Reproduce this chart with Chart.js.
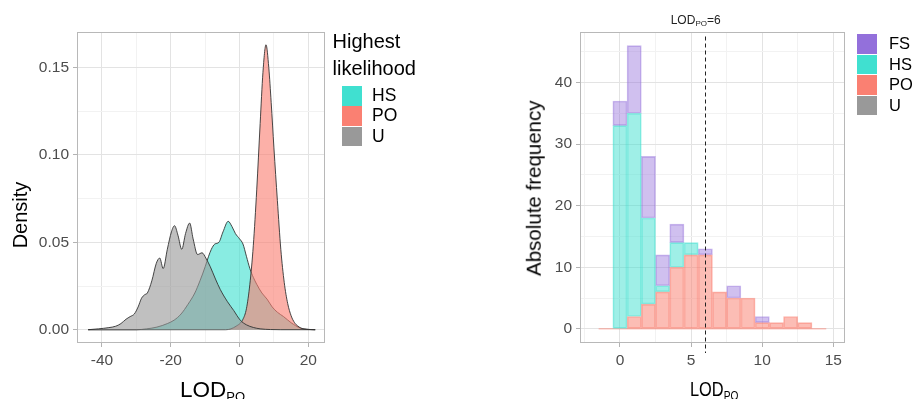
<!DOCTYPE html>
<html><head><meta charset="utf-8">
<script src="https://cdn.jsdelivr.net/npm/chart.js@4.4.1/dist/chart.umd.min.js"></script>
<style>
html,body{margin:0;padding:0;background:#fff;}
body{width:915px;height:399px;position:relative;overflow:hidden;font-family:"Liberation Sans",Arial,sans-serif;color:#000;}
.abs{position:absolute;white-space:nowrap;}
.key{position:absolute;}
</style></head><body>
<div class="abs" style="left:0;top:0;width:335px;height:399px"><canvas id="left"></canvas></div>
<div class="abs" style="left:505px;top:0;width:350px;height:399px"><canvas id="right"></canvas></div>

<!-- left chart texts -->
<div class="abs" style="left:-30.3px;top:205px;width:100px;height:20px;line-height:20px;font-size:20px;text-align:center;transform:rotate(-90deg);">Density</div>
<div class="abs" style="left:180px;top:378.5px;font-size:22.5px;line-height:22.5px;">LOD<span style="font-size:13px;line-height:0;position:relative;top:4px;">PO</span></div>
<div class="abs" style="left:332.5px;top:31.4px;font-size:20px;line-height:20px;">Highest</div>
<div class="abs" style="left:332.5px;top:58px;font-size:20px;line-height:20px;">likelihood</div>
<div id="legL"></div>

<!-- right chart texts -->
<div class="abs" style="left:414px;top:178px;width:240px;height:20.5px;line-height:20.5px;font-size:20.5px;text-align:center;transform:rotate(-90deg);">Absolute frequency</div>
<div class="abs" style="left:690px;top:378.2px;font-size:21px;line-height:21px;transform:scaleX(0.78);transform-origin:left center;">LOD<span style="font-size:13px;line-height:0;position:relative;top:4px;">PO</span></div>
<div class="abs" style="left:670.7px;top:14.1px;font-size:12px;line-height:12px;color:#222;">LOD<span style="font-size:8px;line-height:0;position:relative;top:2px;">PO</span>=6</div>
<div id="legR"></div>

<script>
// ---------- Left panel: density curves (LOD_PO) ----------
const uX  = [-44, -41, -38, -36, -34.5, -33, -31.8, -30.6, -29.5, -28.5, -27.6, -26.8, -25.5, -24.2, -23.2, -22.2, -21, -19.8, -18.9, -17.9, -16.8, -15.7, -14.5, -13.5, -12.2, -10.9, -9.8, -8.5, -7, -5.6, -3.5, -1.7, 0.2, 2, 4, 6, 9, 12, 22];
const uY  = [0, 0.0005, 0.0012, 0.002, 0.0035, 0.006, 0.0075, 0.009, 0.013, 0.018, 0.020, 0.021, 0.028, 0.038, 0.041, 0.035, 0.046, 0.056, 0.0595, 0.054, 0.046, 0.055, 0.061, 0.052, 0.043, 0.044, 0.041, 0.036, 0.029, 0.023, 0.016, 0.011, 0.0055, 0.0028, 0.0013, 0.0005, 0.0001, 0, 0];

const hsX = [-44, -30, -27, -24, -21, -19, -17, -15, -13, -11.5, -10, -9, -8.2, -7.2, -6, -4.8, -3.3, -2.2, -1.2, 0, 1, 2, 3, 4, 5, 6.5, 8, 9.5, 11, 12.8, 15, 17.6, 20, 22];
const hsY = [0, 0, 0.0005, 0.0015, 0.0035, 0.0055, 0.009, 0.0145, 0.021, 0.028, 0.036, 0.042, 0.046, 0.049, 0.050, 0.056, 0.062, 0.059, 0.055, 0.052, 0.049, 0.042, 0.035, 0.030, 0.026, 0.021, 0.0175, 0.013, 0.010, 0.0075, 0.004, 0.001, 0.0002, 0];

const poX = [-44, -4, -1, 1, 2, 3, 4, 5, 6, 6.8, 7.7, 8.5, 9.2, 10, 11, 12, 13, 14, 15, 16, 17, 18.5, 22];
const poY = [0, 0, 0.002, 0.006, 0.012, 0.026, 0.048, 0.080, 0.118, 0.147, 0.163, 0.150, 0.130, 0.104, 0.074, 0.046, 0.027, 0.015, 0.008, 0.004, 0.002, 0.0005, 0];

const xTicksLeft  = [-40, -30, -20, -10, 0, 10, 20];
const xMajorLeft  = [-40, -20, 0, 20];
const yTicksLeft  = [0, 0.025, 0.05, 0.075, 0.10, 0.125, 0.15];
const yMajorLeft  = [0, 0.05, 0.10, 0.15];
const yLabelLeft  = ['0.00', '0.05', '0.10', '0.15'];

// ---------- Right panel: stacked histogram ----------
const bins     = [-1, 0, 1, 2, 3, 4, 5, 6, 7, 8, 9, 10, 11, 12, 13, 14];
const poCounts = [0, 0, 2, 4, 6, 10, 12, 12, 6, 5, 5, 1, 1, 2, 1, 0];
const hsCounts = [0, 33, 33, 14, 1, 4, 2, 0, 0, 0, 0, 0, 0, 0, 0, 0];
const fsCounts = [0, 4, 11, 10, 5, 3, 0, 1, 0, 2, 0, 1, 0, 0, 0, 0];
const uCounts  = [0, 0, 0, 0, 0, 0, 0, 0, 0, 0, 0, 0, 0, 0, 0, 0];
const threshold = 6;

const xTicksRight = [-2.5, 0, 2.5, 5, 7.5, 10, 12.5, 15];
const xMajorRight = [0, 5, 10, 15];
const yTicksRight = [0, 5, 10, 15, 20, 25, 30, 35, 40, 45];
const yMajorRight = [0, 10, 20, 30, 40];

// ---------- styles ----------
const COL = { FS: [147, 112, 219], HS: [64, 224, 208], PO: [250, 128, 114], U: [153, 153, 153] };
const rgba = (c, a) => `rgba(${c[0]},${c[1]},${c[2]},${a})`;
const MAJOR = '#e3e3e3', MINOR = '#f2f2f2', TICKC = '#b3b3b3', LABELC = '#4d4d4d';

Chart.defaults.font.family = '"Liberation Sans", Arial, sans-serif';

const panelBorder = {
  id: 'panelBorder',
  afterDraw(chart) {
    const { ctx, chartArea: a } = chart;
    ctx.save();
    ctx.strokeStyle = '#b8b8b8';
    ctx.lineWidth = 1;
    ctx.strokeRect(Math.round(a.left) + 0.5, Math.round(a.top) + 0.5, Math.round(a.right - a.left) - 1, Math.round(a.bottom - a.top) - 1);
    ctx.restore();
  }
};

const vline = {
  id: 'vline',
  afterDraw(chart, args, opts) {
    if (opts.value === undefined) return;
    const { ctx, chartArea: a } = chart;
    const x = Math.round(chart.scales.x.getPixelForValue(opts.value)) + 0.5;
    ctx.save();
    ctx.setLineDash([4, 3]);
    ctx.strokeStyle = '#222';
    ctx.lineWidth = 1;
    ctx.beginPath();
    ctx.moveTo(x, a.top + 4.5);
    ctx.lineTo(x, a.bottom + 10);
    ctx.stroke();
    ctx.restore();
  }
};

function axis(min, max, ticks, majors, labelFn, fit, extra) {
  return Object.assign({
    type: 'linear', min, max, bounds: 'data', offset: false,
    afterBuildTicks: s => { s.ticks = ticks.map(v => ({ value: v })); },
    afterFit: fit,
    ticks: {
      autoSkip: false, maxRotation: 0, color: LABELC, font: { size: 15.5 }, padding: 4,
      callback: v => { const i = majors.indexOf(v); return i >= 0 ? labelFn(v, i) : ''; }
    },
    grid: {
      offset: false, drawTicks: true, tickLength: 4, lineWidth: 1,
      color: c => (c.tick && majors.includes(c.tick.value)) ? MAJOR : MINOR,
      tickColor: c => (c.tick && majors.includes(c.tick.value)) ? TICKC : 'rgba(0,0,0,0)'
    },
    border: { display: false }
  }, extra || {});
}

// ---------- left chart ----------
const mk = (xs, ys) => xs.map((x, i) => ({ x, y: ys[i] }));
new Chart(document.getElementById('left'), {
  type: 'line',
  data: {
    datasets: [
      { label: 'HS', data: mk(hsX, hsY), backgroundColor: rgba(COL.HS, 0.62), order: 3 },
      { label: 'PO', data: mk(poX, poY), backgroundColor: rgba(COL.PO, 0.62), order: 2 },
      { label: 'U',  data: mk(uX, uY),   backgroundColor: rgba(COL.U, 0.62),  order: 1 }
    ].map(d => Object.assign(d, { fill: 'origin', borderColor: '#333', borderWidth: 0.9, pointRadius: 0, cubicInterpolationMode: 'monotone' }))
  },
  options: {
    responsive: true, maintainAspectRatio: false, animation: false,
    layout: { padding: { top: 32, right: 10, left: 0, bottom: 0 } },
    plugins: { legend: { display: false }, tooltip: { enabled: false } },
    scales: {
      x: axis(-47.26, 24.85, xTicksLeft, xMajorLeft, v => String(v), s => { s.height = 56; }),
      y: axis(-0.0076, 0.1703, yTicksLeft, yMajorLeft, (v, i) => yLabelLeft[i], s => { s.width = 77; })
    }
  },
  plugins: [panelBorder]
});

// ---------- right chart ----------
const bar = (label, counts, c, a) => ({
  label, data: bins.map((b, i) => ({ x: b, y: counts[i] })),
  backgroundColor: rgba(c, a), borderColor: rgba(c, a + 0.05), borderWidth: 1, borderSkipped: false,
  barPercentage: 1, categoryPercentage: 1, stack: 'h'
});
new Chart(document.getElementById('right'), {
  type: 'bar',
  data: {
    datasets: [
      { type: 'line', label: 'base', data: [{ x: bins[0] - 0.5, y: 0 }, { x: bins[bins.length - 1] + 0.5, y: 0 }],
        borderColor: rgba(COL.PO, 0.7), borderWidth: 1, pointRadius: 0, fill: false, stack: 'base', order: 10 },
      bar('PO', poCounts, COL.PO, 0.52),
      bar('HS', hsCounts, COL.HS, 0.5),
      bar('FS', fsCounts, COL.FS, 0.44),
      bar('U', uCounts, COL.U, 0.5)
    ]
  },
  options: {
    responsive: true, maintainAspectRatio: false, animation: false,
    layout: { padding: { top: 32, right: 10, left: 0, bottom: 0 } },
    plugins: { legend: { display: false }, tooltip: { enabled: false }, vline: { value: threshold } },
    scales: {
      x: axis(-2.81, 15.82, xTicksRight, xMajorRight, v => String(v), s => { s.height = 56; }, { stacked: true }),
      y: axis(-2.3, 48.2, yTicksRight, yMajorRight, v => String(v), s => { s.width = 75; }, { stacked: true })
    }
  },
  plugins: [panelBorder, vline]
});

// ---------- legends (HTML) ----------
function legend(el, items, x, y0, step, kw, kh, lx, fs) {
  el.innerHTML = items.map((it, i) =>
    `<div class="key" style="left:${x}px;top:${y0 + i * step}px;width:${kw}px;height:${kh}px;background:${rgba(COL[it], 1)}"></div>` +
    `<div class="abs" style="left:${lx}px;top:${y0 + i * step}px;height:${kh}px;line-height:${kh}px;font-size:${fs}px;">${it}</div>`
  ).join('');
}
legend(document.getElementById('legL'), ['HS', 'PO', 'U'], 341.7, 86, 20.3, 20, 19.5, 372, 17.5);
legend(document.getElementById('legR'), ['FS', 'HS', 'PO', 'U'], 857.3, 34.3, 20.4, 19.4, 19.6, 889, 16.5);
</script>
</body></html>
